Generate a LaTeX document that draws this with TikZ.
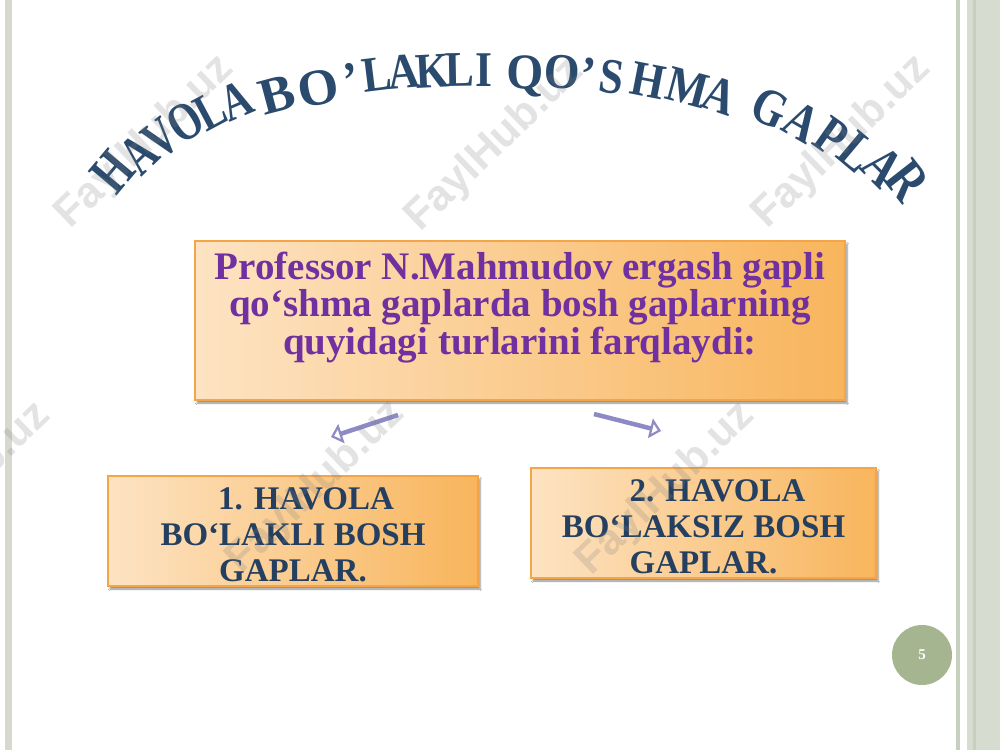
\documentclass[tikz,border=0pt]{standalone}
\usepackage{fontspec}
\setmainfont{Liberation Serif}
\newfontfamily\wmfont{Liberation Sans}
\usetikzlibrary{arrows.meta,shadows.blur}
\definecolor{titleblue}{HTML}{2A4A6E}
\definecolor{txtpurple}{HTML}{7030A0}
\definecolor{boxblue}{HTML}{243F60}
\definecolor{peach}{HTML}{FDE3C3}
\definecolor{orangeR}{HTML}{F8B55C}
\definecolor{boxedge}{HTML}{F4A548}
\definecolor{arrowc}{HTML}{8E8AC6}
\definecolor{sage}{HTML}{A4B590}
\definecolor{bandc}{HTML}{D6DCD0}
\definecolor{stripec}{HTML}{C7CFBF}
\definecolor{leftline}{HTML}{D5D9CE}
\begin{document}
\begin{tikzpicture}[x=1pt,y=1pt,
  tl/.style={font=\fontsize{50}{50}\selectfont\bfseries, text=titleblue, inner sep=0pt, text height=33pt, text depth=0pt, anchor=center},
  obox/.style={draw=boxedge, line width=1.2pt, left color=peach, right color=orangeR, inner sep=0pt,
     blur shadow={shadow xshift=2pt, shadow yshift=-3pt, shadow blur steps=6, shadow opacity=45}},
  maintxt/.style={font=\fontsize{39}{37.5}\selectfont\bfseries, text=txtpurple, align=center, anchor=north, inner sep=0pt},
  subtxt/.style={font=\fontsize{33}{36}\selectfont\bfseries, text=boxblue, align=center, anchor=north, inner sep=0pt},
  arr/.style={draw=arrowc, line width=4.5pt, -{Triangle[open,length=11pt,width=20pt,line width=2.2pt]}},
  wm/.style={font=\wmfont\bfseries\fontsize{43}{43}\selectfont, text=gray, text opacity=0.22, rotate=44, inner sep=0pt}
]
\useasboundingbox (0,0) rectangle (1000,-750);
\fill[white] (0,0) rectangle (1000,-750);
% borders
\fill[leftline] (5,0) rectangle (12,-750);
\fill[stripec] (956,0) rectangle (960,-750);
\fill[bandc] (967,0) rectangle (1000,-750);
\fill[stripec] (973,0) rectangle (976,-750);
% title letters: x / y / angle / xscale / yscale / letter
\foreach \x/\y/\a/\sx/\sy/\ch [count=\i] in {
  113/172/50/0.85/1.15/H, 139/154/44/0.8/1.12/A, 161/138/38/0.8/1.1/V, 185/122/33/0.82/1.08/O,
  210/111/28/0.82/1.05/L, 236/101/23/0.82/1.05/A, 277/95/15/1.05/1.03/B, 318/88/11/1.05/1.03/O,
  351/80/9/0.9/1.0/’, 377/74/7/0.87/1.0/L, 404/72/5/0.87/1.0/A, 433/71/3/0.87/1.0/K,
  460/70/1/0.87/1.0/L, 484/70/0/0.87/1.0/I, 525/72/-1/0.95/1.0/Q, 562/72/-3/0.92/1.0/O,
  588/75/-5/0.9/1.0/’, 612/77/-8/0.87/1.0/S, 648/81/-11/0.87/1.0/H, 688/88/-15/0.87/1.02/M,
  720/96/-19/0.87/1.03/A, 770/108/-25/0.87/1.05/G, 802/122/-30/0.87/1.07/A, 832/137/-35/0.87/1.08/P,
  857/152/-40/0.87/1.1/L, 883/167/-45/0.87/1.12/A, 907/181/-52/0.9/1.15/R}
  \node[tl, rotate=\a, xscale=\sx, yscale=\sy] (t\i) at (\x,-\y) {\ch};
% main box
\node[obox, minimum width=650pt, minimum height=159pt] (main) at (520,-320.5) {};
\node[maintxt] (maintext) at (520,-251.5) {Professor N.Mahmudov ergash gapli\\qo‘shma gaplarda bosh gaplarning\\quyidagi turlarini farqlaydi:};
% sub boxes
\node[obox, minimum width=370pt, minimum height=110pt] (left) at (293,-531) {};
\node[subtxt] (lefttext) at (293,-487.7) {\hspace*{26pt}1. HAVOLA\\BO‘LAKLI BOSH\\GAPLAR.};
\node[obox, minimum width=345pt, minimum height=110pt] (right) at (703.5,-523) {};
\node[subtxt] (righttext) at (703.5,-479.7) {\hspace*{28pt}2. HAVOLA\\BO‘LAKSIZ BOSH\\GAPLAR.};
% arrows
\coordinate (la1) at (398,-415); \coordinate (la2) at (331,-437);
\coordinate (ra1) at (594,-414); \coordinate (ra2) at (661,-431);
\draw[arr] (la1) -- (la2);
\draw[arr] (ra1) -- (ra2);
% page number
\node[circle, fill=sage, minimum size=60pt, inner sep=0pt, text=white, font=\fontsize{15}{15}\selectfont\bfseries] (pg) at (922,-655) {5};
% watermarks
\node[wm] (w1) at (145,-142) {FaylHub.uz};
\node[wm] (w2) at (495,-145) {FaylHub.uz};
\node[wm] (w3) at (842,-142) {FaylHub.uz};
\node[wm] (w4) at (-38,-489) {FaylHub.uz};
\node[wm] (w5) at (316,-487) {FaylHub.uz};
\node[wm] (w6) at (666,-489) {FaylHub.uz};
\end{tikzpicture}
\end{document}
